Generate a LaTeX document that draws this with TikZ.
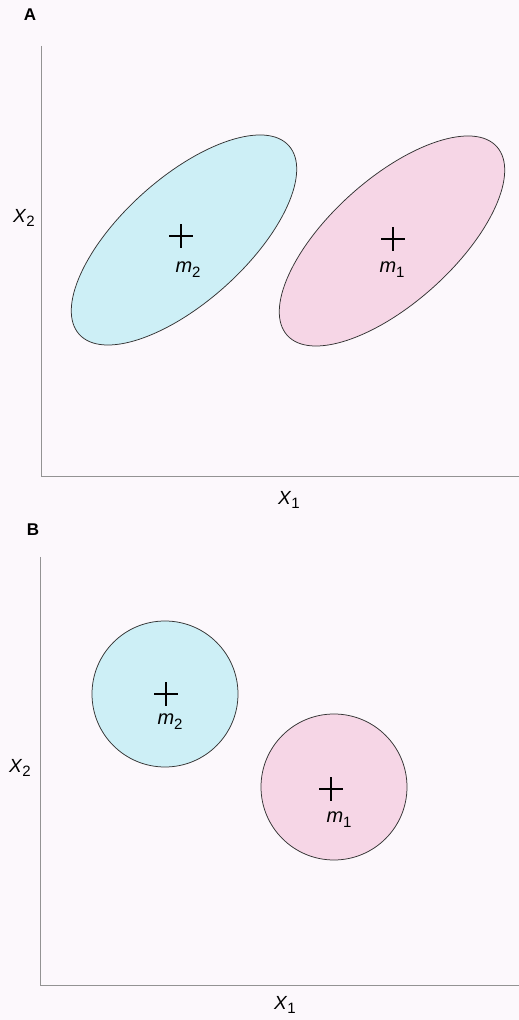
\documentclass[tikz,border=0pt]{standalone}
\usepackage{fontspec}
\setmainfont{Liberation Sans}
\usetikzlibrary{positioning}
\definecolor{bgpaper}{HTML}{FCF8FC}
\definecolor{blobblue}{HTML}{CDEFF6}
\definecolor{blobpink}{HTML}{F6D6E6}
\newcommand{\varsub}[2]{\textit{#1}\raisebox{-0.45ex}{\fontsize{15}{15}\selectfont #2}}

\begin{document}
\begin{tikzpicture}[x=1pt,y=1pt,
  axis/.style={draw=gray!85,line width=0.9pt},
  blob/.style={draw=black!80,line width=0.75pt},
  mean/.style={line width=1.1pt},
  axlab/.style={font={\fontsize{19}{19}\selectfont},inner sep=0pt},
  meanlab/.style={font={\fontsize{20}{20}\selectfont},inner sep=0pt},
  panel/.style={font={\fontsize{17}{17}\selectfont\bfseries},inner sep=0pt}]
  \fill[bgpaper] (0,0) rectangle (519,1020);
  \useasboundingbox (0,0) rectangle (519,1020);
  % panel A
  \coordinate (OA) at (41,544);
  \coordinate (YA) at (41,974);
  \coordinate (XA) at (519,544);
  \draw[axis] (YA) -- (OA) -- (XA);
  \node[panel] (labA) at (30,1005) {A};
  \node[axlab] (x2A) at (24,802) {\varsub{X}{2}};
  \node[axlab] (x1A) at (289,520) {\varsub{X}{1}};
  \coordinate (C2A) at (184,780);
  \coordinate (C1A) at (392,779);
  \draw[blob,fill=blobblue] (C2A) ellipse [x radius=141pt,y radius=62pt,rotate=42];
  \draw[blob,fill=blobpink] (C1A) ellipse [x radius=141pt,y radius=62pt,rotate=42];
  \coordinate (M2A) at (181,784);
  \coordinate (M1A) at (393,781);
  \draw[mean] (M2A) +(-12,0) -- +(12,0) (M2A) +(0,-12) -- +(0,12);
  \draw[mean] (M1A) +(-12,0) -- +(12,0) (M1A) +(0,-12) -- +(0,12);
  \node[meanlab] (m2A) at (188,750) {\varsub{m}{2}};
  \node[meanlab] (m1A) at (392,750) {\varsub{m}{1}};
  % panel B
  \coordinate (OB) at (40,35);
  \coordinate (YB) at (40,463);
  \coordinate (XB) at (519,35);
  \draw[axis] (YB) -- (OB) -- (XB);
  \node[panel] (labB) at (33,490) {B};
  \node[axlab] (x2B) at (20,252) {\varsub{X}{2}};
  \node[axlab] (x1B) at (285,15) {\varsub{X}{1}};
  \coordinate (C2B) at (165,326);
  \coordinate (C1B) at (334,233);
  \draw[blob,fill=blobblue] (C2B) circle (73pt);
  \draw[blob,fill=blobpink] (C1B) circle (73pt);
  \coordinate (M2B) at (166,326);
  \coordinate (M1B) at (331,231);
  \draw[mean] (M2B) +(-12,0) -- +(12,0) (M2B) +(0,-12) -- +(0,12);
  \draw[mean] (M1B) +(-12,0) -- +(12,0) (M1B) +(0,-12) -- +(0,12);
  \node[meanlab] (m2B) at (170,298) {\varsub{m}{2}};
  \node[meanlab] (m1B) at (339,200) {\varsub{m}{1}};
\end{tikzpicture}
\end{document}
